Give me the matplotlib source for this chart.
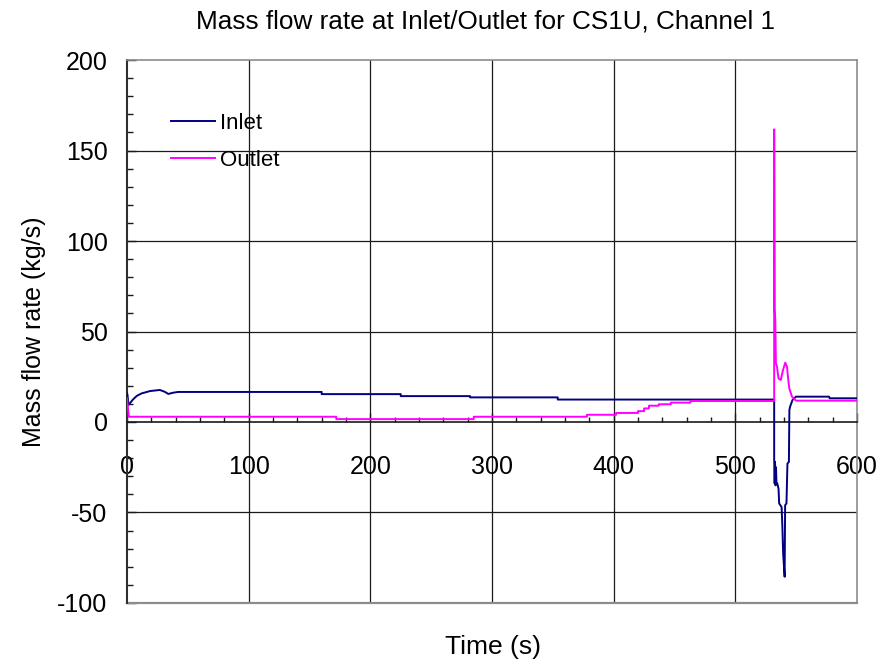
import numpy as np
import matplotlib.pyplot as plt
from matplotlib.ticker import MultipleLocator

plt.rcParams['font.family'] = ['Liberation Sans', 'DejaVu Sans']
plt.rcParams['axes.unicode_minus'] = False

# Inlet mass flow (kg/s) vs time (s)
inlet_t = [0, 0.4, 1.2, 5, 8, 12, 19, 27, 31, 34, 38, 42,
           160, 160, 225, 225, 282, 282, 354, 354,
           531.9, 531.9, 532.3, 532.6, 533.0, 533.4, 533.8, 534.5, 535.5, 536.0,
           538.0, 538.6, 539.3, 540.5, 540.9, 542.0, 542.8, 544.0, 544.4, 545.0,
           547.0, 549.8, 577.0, 577.5, 600]
inlet_v = [16.0, 15.0, 9.4, 12.5, 14.4, 15.8, 17.1, 17.7, 16.7, 15.5, 16.2, 16.6,
           16.6, 15.4, 15.4, 14.3, 14.3, 13.6, 13.6, 12.4,
           12.4, -20, -34, -22, -35, -25, -34, -34, -37, -45,
           -47, -57, -73, -85.5, -46, -45, -23, -22, 6.6, 8.5,
           12.2, 14.0, 14.0, 13.1, 13.1]

# Outlet mass flow (kg/s) vs time (s)
outlet_t = [0, 1.5, 172, 172, 285, 285, 378, 378, 402, 402, 420, 420,
            425, 425, 429, 429, 437, 437, 447, 447, 463, 463,
            531.9, 531.9, 532.3, 532.8, 533.3, 534.2, 535.5, 537.4, 538.8, 541.0,
            542.4, 543.5, 544.3, 546.5, 549.8, 600]
outlet_v = [13.0, 2.9, 2.9, 1.6, 1.6, 2.9, 2.9, 4.0, 4.0, 5.0, 5.0, 6.0,
            6.0, 7.5, 7.5, 9.0, 9.0, 9.8, 9.8, 10.7, 10.7, 11.6,
            11.6, 161.7, 62, 57, 32.6, 30.6, 24, 23.2, 27.8, 32.8,
            30.6, 23.2, 18.6, 14.0, 11.8, 11.8]

fig = plt.figure(figsize=(8.85, 6.66), dpi=100)
ax = fig.add_axes([0.1435, 0.0946, 0.8249, 0.8153])

ax.set_xlim(0, 600)
ax.set_ylim(-100, 200)

# grid at major ticks
for x in range(100, 600, 100):
    ax.axvline(x, color='#1a1a1a', lw=0.9, zorder=1)
for y in (-50, 50, 100, 150):
    ax.axhline(y, color='#1a1a1a', lw=0.9, zorder=1)

ax.plot(inlet_t, inlet_v, color='#000080', lw=1.4, label='Inlet', zorder=3)
ax.plot(outlet_t, outlet_v, color='#ff00ff', lw=1.4, label='Outlet', zorder=3)

# x axis runs along y = 0, grey frame around the plot
ax.spines['bottom'].set_position(('data', 0))
ax.spines['bottom'].set_color('#1a1a1a')
ax.spines['bottom'].set_linewidth(1.2)
ax.spines['left'].set_color('#303030')
ax.spines['left'].set_linewidth(1.5)
for s in ('top', 'right'):
    ax.spines[s].set_color('#8c8c8c')
    ax.spines[s].set_linewidth(1.2)
ax.axhline(-100, color='#8c8c8c', lw=1.6, clip_on=False, zorder=2)

ax.xaxis.set_major_locator(MultipleLocator(100))
ax.xaxis.set_minor_locator(MultipleLocator(20))
ax.yaxis.set_major_locator(MultipleLocator(50))
ax.yaxis.set_minor_locator(MultipleLocator(10))
ax.tick_params(axis='x', which='major', direction='in', length=6.5, width=1,
               pad=24, labelsize=18, color='#1a1a1a')
ax.tick_params(axis='x', which='minor', direction='in', length=3.5, width=1,
               color='#1a1a1a')
ax.tick_params(axis='y', which='major', direction='in', length=6.5, width=1,
               pad=14, labelsize=18, color='#1a1a1a')
ax.tick_params(axis='y', which='minor', direction='in', length=4.5, width=1,
               color='#1a1a1a')

ax.set_ylabel('Mass flow rate (kg/s)', fontsize=18, labelpad=8)
fig.text(0.5565, 0.028, 'Time (s)', fontsize=19, ha='center', va='center')
fig.text(0.549, 0.968, 'Mass flow rate at Inlet/Outlet for CS1U, Channel 1',
         fontsize=18.8, ha='center', va='center')

ax.legend(loc='upper left', bbox_to_anchor=(0.06, 0.903), frameon=False,
          fontsize=16, handlelength=1.98, handletextpad=0.22, labelspacing=0.72,
          borderpad=0, borderaxespad=0)

fig.savefig('out.png', dpi=100)
